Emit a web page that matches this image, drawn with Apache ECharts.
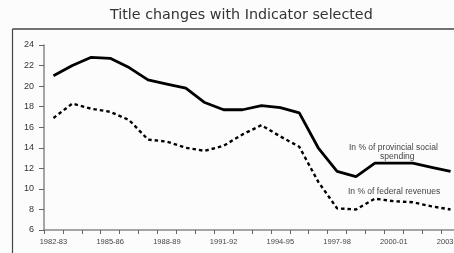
<!DOCTYPE html>
<html><head><meta charset="utf-8">
<script src="https://cdn.jsdelivr.net/npm/echarts@6/dist/echarts.min.js"></script>
<style>html,body{margin:0;padding:0;background:#fcfcfc;}#c{width:454px;height:253px;}</style>
</head><body><div id="c"></div>
<script>
const categories = ['1982-83','1983-84','1984-85','1985-86','1986-87','1987-88','1988-89','1989-90','1990-91','1991-92','1992-93','1993-94','1994-95','1995-96','1996-97','1997-98','1998-99','1999-00','2000-01','2001-02','2002-03','2003-04'];
const provincialSocial = [21.0,22.0,22.8,22.7,21.8,20.6,20.2,19.8,18.4,17.7,17.7,18.1,17.9,17.4,14.0,11.7,11.2,12.5,12.5,12.5,12.1,11.7];
const federalRevenues = [16.9,18.3,17.8,17.5,16.7,14.8,14.6,14.0,13.7,14.2,15.3,16.2,15.1,14.1,10.7,8.1,8.0,9.05,8.8,8.7,8.3,8.0];
const yTicks = [6,8,10,12,14,16,18,20,22,24];

const chart = echarts.init(document.getElementById('c'));
chart.setOption({
  backgroundColor: '#fcfcfc',
  animation: false,
  title: {text: 'Title changes with Indicator selected', left: 105, top: 3,
    textStyle: {fontFamily: 'DejaVu Sans', fontSize: 14.3, fontWeight: 'normal', color: '#333'}},
  grid: {left: 44, top: 45, width: 416, height: 185, outerBoundsMode: 'none', containLabel: false},
  xAxis: {type: 'category', data: categories, boundaryGap: true,
    axisLine: {lineStyle: {color: '#888', width: 1.5}},
    axisTick: {show: true, interval: 0, length: 4, lineStyle: {color: '#666'}},
    axisLabel: {interval: 2, fontFamily: 'Liberation Sans', fontSize: 7.5, color: '#444', margin: 8, hideOverlap: false}},
  yAxis: {type: 'value', min: yTicks[0], max: yTicks[yTicks.length-1], interval: 2,
    splitLine: {show: false},
    axisLine: {show: true, lineStyle: {color: '#888', width: 1.5}},
    axisTick: {show: true, length: 5, inside: false, lineStyle: {color: '#666'}},
    axisLabel: {fontFamily: 'Liberation Sans', fontSize: 9, color: '#333', margin: 10}},
  graphic: [
    {type: 'line', shape: {x1: 12.5, y1: 29, x2: 454, y2: 29}, style: {stroke: '#444', lineWidth: 1.5}},
    {type: 'line', shape: {x1: 12.5, y1: 29, x2: 12.5, y2: 253}, style: {stroke: '#444', lineWidth: 1.2}},
    {type: 'text', left: 349, top: 143, style: {text: 'In % of provincial social', fontFamily: 'Liberation Sans', fontSize: 8.5, fill: '#444'}},
    {type: 'text', left: 380, top: 152, style: {text: 'spending', fontFamily: 'Liberation Sans', fontSize: 8.5, fill: '#444'}},
    {type: 'text', left: 348, top: 187, style: {text: 'In % of federal revenues', fontFamily: 'Liberation Sans', fontSize: 8.5, fill: '#444'}}
  ],
  series: [
    {name: 'In % of provincial social spending', type: 'line', data: provincialSocial, symbol: 'none',
      lineStyle: {color: '#000', width: 2.8}},
    {name: 'In % of federal revenues', type: 'line', data: federalRevenues, symbol: 'none',
      lineStyle: {color: '#000', width: 2.4, type: [3.5, 3]}}
  ]
});
</script></body></html>
